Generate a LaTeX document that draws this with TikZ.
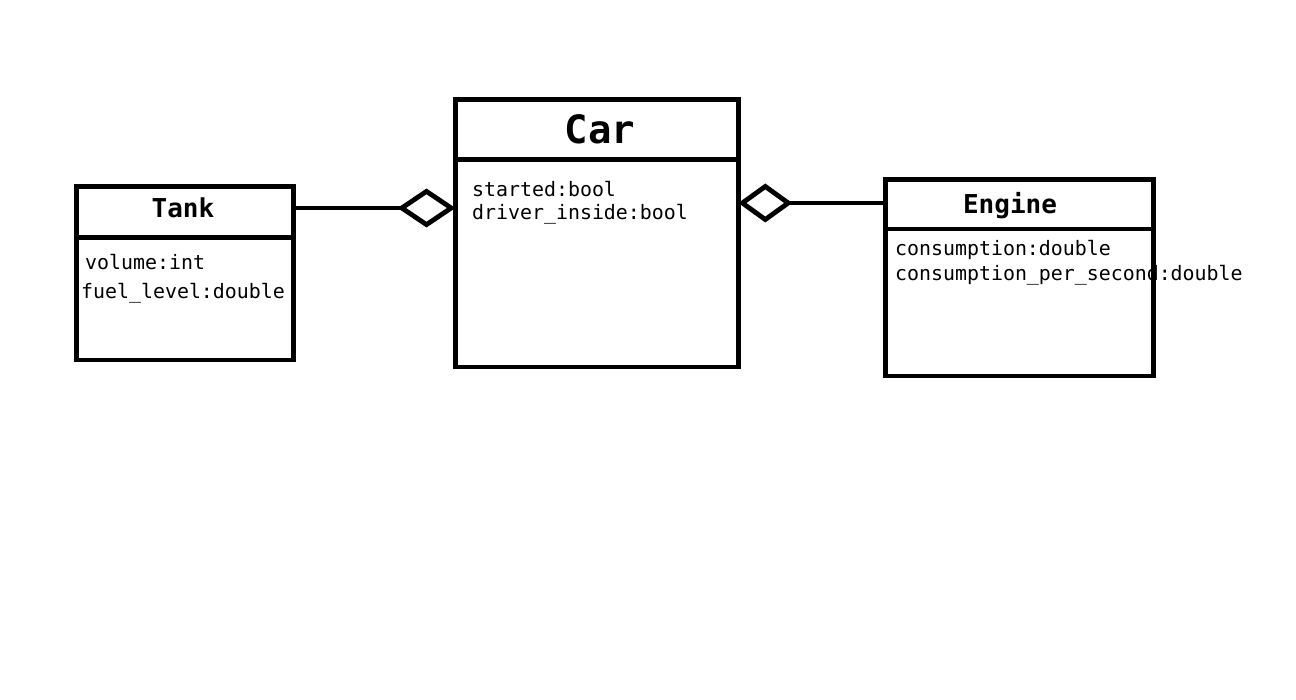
\documentclass[tikz,border=0pt]{standalone}
\usepackage{fontspec}
\setmonofont{DejaVu Sans Mono}
\usetikzlibrary{arrows.meta}
\begin{document}
\begin{tikzpicture}[x=1pt,y=-1pt,
  box/.style={draw, line width=4.8pt, rectangle, inner sep=0pt, outer sep=0pt},
  divider/.style={line width=4.8pt},
  title/.style={anchor=base, inner sep=0pt, font=\ttfamily\bfseries\fontsize{26}{30}\selectfont},
  bigtitle/.style={anchor=base, inner sep=0pt, font=\ttfamily\bfseries\fontsize{39}{44}\selectfont},
  attr/.style={anchor=base west, inner sep=0pt, font=\ttfamily\fontsize{19.9}{22}\selectfont},
  agg/.style={line width=4.8pt, -{Diamond[open, length=#1, width=39pt, line width=4.8pt]}},
]
\useasboundingbox[fill=white] (0,0) rectangle (1296,700);

% boxes
\node[box, minimum width=217pt, minimum height=173.3pt] (tank) at (185,273.35) {};
\node[box, minimum width=282.8pt, minimum height=267.2pt] (car) at (596.9,233.4) {};
\node[box, minimum width=268pt, minimum height=196.5pt] (engine) at (1019.5,277.75) {};

% dividers
\draw[divider] ([yshift=-50.8pt]tank.north west) -- ([yshift=-50.8pt]tank.north east);
\draw[divider] ([yshift=-59.4pt]car.north west) -- ([yshift=-59.4pt]car.north east);
\draw[divider] ([yshift=-49.5pt]engine.north west) -- ([yshift=-49.5pt]engine.north east);

% titles
\node[title] (tanktitle) at (183,218) {Tank};
\node[bigtitle] (cartitle) at (600,143.3) {Car};
\node[title] (enginetitle) at (1010,213.3) {Engine};

% attributes
\node[attr] (tanka1) at (85,269.3) {volume:int};
\node[attr] (tanka2) at (81,298.3) {fuel\_level:double};
\node[attr] (cara1) at (472,196.7) {started:bool};
\node[attr] (cara2) at (472,220) {driver\_inside:bool};
\node[attr] (enginea1) at (895,256) {consumption:double};
\node[attr] (enginea2) at (895,280.7) {consumption\_per\_second:double};

% connectors
\coordinate (tankport) at ([yshift=-21.3pt]tank.north east);
\coordinate (engineport) at ([yshift=-23.5pt]engine.north west);
\draw[agg=58pt] (tankport) -- (tankport -| car.west);
\draw[agg=54pt] (engineport) -- (engineport -| car.east);
\end{tikzpicture}
\end{document}
